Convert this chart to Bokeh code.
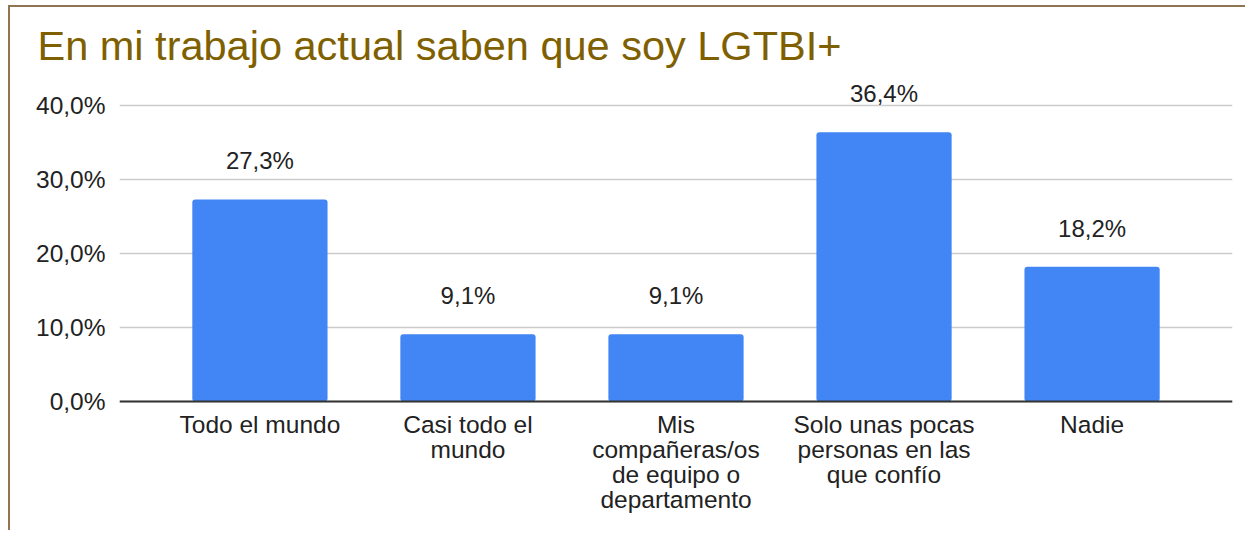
from bokeh.plotting import figure
from bokeh.models import ColumnDataSource, FactorRange, Range1d, FixedTicker, LabelSet
from bokeh.core.properties import value
from bokeh.embed import file_html
from bokeh.resources import INLINE

categories = ["Todo el mundo", "Casi todo el mundo", "Mis compañeras/os de equipo o departamento",
              "Solo unas pocas personas en las que confío", "Nadie"]
category_labels = ["Todo el mundo", "Casi todo el\nmundo", "Mis\ncompañeras/os\nde equipo o\ndepartamento",
                   "Solo unas pocas\npersonas en las\nque confío", "Nadie"]
values = [27.3, 9.1, 9.1, 36.4, 18.2]
value_labels = ["27,3%", "9,1%", "9,1%", "36,4%", "18,2%"]
y_ticks = [0, 10, 20, 30, 40]
y_tick_labels = ["0,0%", "10,0%", "20,0%", "30,0%", "40,0%"]

FONT = "Liberation Sans"
TXT = "#222222"
LINE_STEP = 25

src = ColumnDataSource(dict(cat=categories, val=values, lab=value_labels))

# one entry per line of each (wrapped) category label, so that every line is centred
lc, ly, lt, lo = [], [], [], []
for c, lab in zip(categories, category_labels):
    for i, line in enumerate(lab.split("\n")):
        lc.append(c)
        ly.append(0)
        lt.append(line)
        lo.append(-9 - LINE_STEP * i)
lsrc = ColumnDataSource(dict(cat=lc, y=ly, text=lt, off=lo))

p = figure(width=1237, height=525, output_backend="svg", toolbar_location=None,
           x_range=FactorRange(*categories, range_padding=0.07, range_padding_units="percent"),
           y_range=Range1d(-17.7, 43.38),
           title="En mi trabajo actual saben que soy LGTBI+",
           min_border_left=109, min_border_right=15, min_border_top=60, min_border_bottom=0)

p.vbar(x="cat", top="val", width=0.65, source=src, color="#4285f4", line_color=None,
       border_radius=3)
p.hspan(y=[0], line_color="#333333", line_width=2)

labels = LabelSet(x="cat", y="val", text="lab", source=src, text_align="center",
                  text_baseline="bottom", y_offset=25, text_font=value(FONT),
                  text_font_size="24px", text_color=TXT)
p.add_layout(labels)

cat_labels = LabelSet(x="cat", y="y", text="text", source=lsrc, text_align="center",
                      text_baseline="top", y_offset="off", text_font=value(FONT),
                      text_font_size="24.5px", text_color=TXT)
p.add_layout(cat_labels)

p.title.text_font = FONT
p.title.text_font_size = "41.5px"
p.title.text_font_style = "normal"
p.title.text_color = "#7f6000"
p.title.align = "left"
p.title.offset = -82
p.title.standoff = 24

p.xaxis.visible = False

p.yaxis.ticker = FixedTicker(ticks=y_ticks)
p.yaxis.major_label_overrides = {t: l for t, l in zip(y_ticks, y_tick_labels)}
p.yaxis.axis_line_color = None
p.yaxis.major_tick_line_color = None
p.yaxis.minor_tick_line_color = None
p.yaxis.major_label_standoff = 8
p.yaxis.major_label_text_font = FONT
p.yaxis.major_label_text_font_size = "24.5px"
p.yaxis.major_label_text_color = TXT

p.xgrid.grid_line_color = None
p.ygrid.grid_line_color = "#cccccc"
p.ygrid.grid_line_width = 1.5
p.outline_line_color = None
p.background_fill_color = "white"
p.border_fill_color = "white"
p.styles = {"border-left": "2px solid #8f7552", "border-top": "2px solid #8f7552",
            "margin-left": "8px", "margin-top": "5px"}

open("out.html", "w").write(file_html(p, INLINE))
